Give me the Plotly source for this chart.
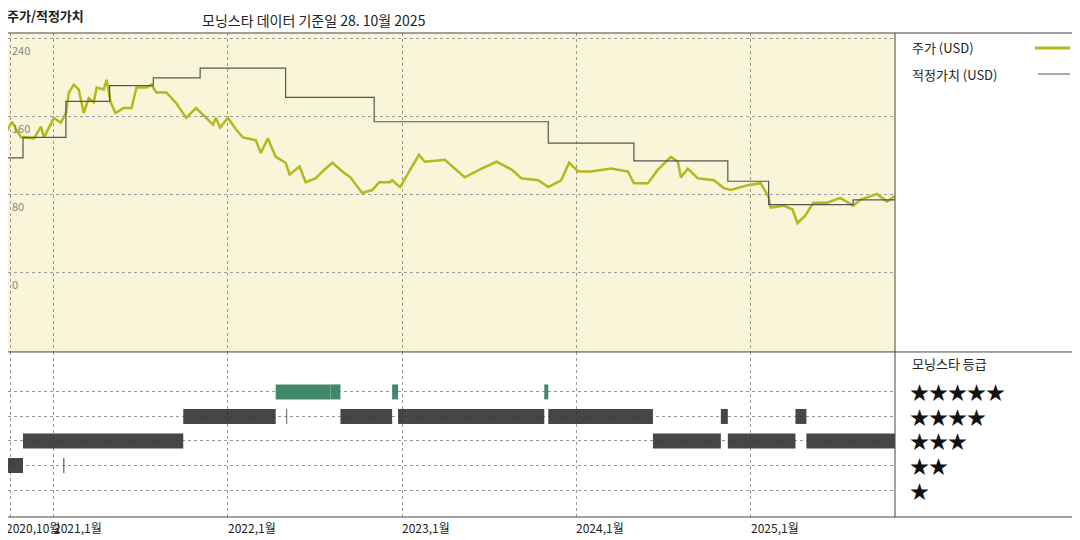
import plotly.graph_objects as go
import pandas as pd

# price (decimal year, USD)
price_t = [2020.731,2020.760,2020.811,2020.886,2020.926,2020.943,2021.000,2021.040,2021.069,2021.086,2021.114,2021.143,2021.171,2021.200,2021.229,2021.246,2021.286,2021.303,2021.326,2021.354,2021.400,2021.446,2021.474,2021.531,2021.560,2021.589,2021.646,2021.703,2021.760,2021.817,2021.857,2021.914,2021.931,2021.954,2022.000,2022.046,2022.086,2022.160,2022.189,2022.229,2022.274,2022.331,2022.354,2022.411,2022.446,2022.503,2022.554,2022.600,2022.657,2022.703,2022.771,2022.829,2022.869,2022.886,2022.931,2022.943,2022.989,2023.057,2023.097,2023.131,2023.246,2023.360,2023.457,2023.543,2023.629,2023.686,2023.783,2023.840,2023.914,2023.960,2024.011,2024.086,2024.200,2024.297,2024.331,2024.411,2024.469,2024.543,2024.583,2024.600,2024.640,2024.697,2024.789,2024.846,2024.886,2024.983,2025.057,2025.103,2025.114,2025.189,2025.240,2025.269,2025.314,2025.360,2025.440,2025.514,2025.589,2025.629,2025.726,2025.783,2025.829]
price_v = [146,155,139,138,150,139,159,154,164,185,193,188,164,179,175,190,188,198,175,164,169,169,190,190,193,185,185,174,159,169,162,152,159,149,159,147,139,136,123,138,119,113,101,109,93,97,106,113,104,98,82,85,93,93,93,95,88,109,121,114,116,98,107,114,106,97,95,88,95,113,104,104,107,104,92,92,106,119,114,98,107,97,95,87,85,90,92,78,67,69,65,51,59,72,72,77,69,75,81,73,79]

# fair value steps: start times and values
fair_t = [2020.731,2020.823,2021.069,2021.320,2021.571,2021.840,2022.331,2022.840,2023.840,2024.331,2024.869,2025.103,2025.589]
fair_v = [118,139,176,192,200,210,180,155,133,115,94,70,75]
fair_end = 2025.829

# star rating intervals
rating_start = [2020.737,2020.823,2021.054,2021.743,2022.274,2022.335,2022.589,2022.646,2022.943,2022.977,2023.023,2023.817,2023.840,2024.440,2024.829,2024.869,2025.257,2025.320]
rating_end   = [2020.823,2021.743,2021.060,2022.274,2022.589,2022.340,2022.646,2022.943,2022.977,2023.023,2023.817,2023.840,2024.440,2024.829,2024.869,2025.257,2025.320,2025.829]
rating_val   = [2,3,2,4,5,4,5,4,5,4,4,5,4,3,4,3,4,3]

tick_dates = ["2020-10-01","2021-01-01","2022-01-01","2023-01-01","2024-01-01","2025-01-01"]
tick_text = ["2020,10월","2021,1월","2022,1월","2023,1월","2024,1월","2025,1월"]
price_ticks = [0,80,160,240]

def d(y):
    y0 = int(y)
    s = pd.Timestamp(f"{y0}-01-01"); e = pd.Timestamp(f"{y0+1}-01-01")
    return s + (e - s) * (y - y0)

def px(xs):  # screen px -> paper x
    return (xs - 8) / 887
def py(ys):
    return (517 - ys) / 484

F = "Noto Sans CJK KR"
fig = go.Figure()
fig.add_trace(go.Scatter(x=[d(t) for t in price_t], y=price_v, mode="lines",
                         line=dict(color="#b5b81c", width=2.5), xaxis="x", yaxis="y"))
fx, fy = [], []
for i, (t, v) in enumerate(zip(fair_t, fair_v)):
    t2 = fair_t[i+1] if i+1 < len(fair_t) else fair_end
    fx += [d(t), d(t2)]; fy += [v, v]
fig.add_trace(go.Scatter(x=fx, y=fy, mode="lines", line=dict(color="#555555", width=1.2),
                         xaxis="x", yaxis="y"))
for col, cond in [("#333333", lambda r: r < 5), ("#2e7d5b", lambda r: r == 5)]:
    rx, ry = [], []
    for s, e, r in zip(rating_start, rating_end, rating_val):
        if cond(r):
            rx += [d(s), d(e), None]; ry += [r, r, None]
    fig.add_trace(go.Scatter(x=rx, y=ry, mode="lines", line=dict(color=col, width=15),
                             opacity=0.9, xaxis="x2", yaxis="y2"))

xr = [d(2020.737), d(fair_end)]
grid = dict(showgrid=True, gridcolor="#999", griddash="dot", gridwidth=1)
fig.update_layout(
    width=1080, height=540, margin=dict(l=0, r=193, t=25, b=31),
    paper_bgcolor="white", plot_bgcolor="rgba(0,0,0,0)", showlegend=False,
    font=dict(family=F, size=13, color="#222"),
    xaxis=dict(domain=[0, 1], range=xr, anchor="y", tickvals=tick_dates, showticklabels=False,
               zeroline=False, **grid),
    yaxis=dict(domain=[0.341, 1], range=[-81, 246], tickvals=price_ticks, showticklabels=False,
               zeroline=False, **grid),
    xaxis2=dict(domain=[0, 1], range=xr, anchor="y2", tickvals=tick_dates, showticklabels=False,
                zeroline=False, **grid),
    yaxis2=dict(domain=[0, 0.341], range=[-0.1, 6.63], tickvals=[1, 2, 3, 4, 5],
                showticklabels=False, zeroline=False, **grid),
)
L = dict(color="#444", width=1)
shapes = [
    dict(type="rect", xref="paper", yref="paper", x0=0, x1=1, y0=0.341, y1=1,
         fillcolor="#f8f5d9", line=dict(width=0), layer="below"),
    dict(type="line", xref="paper", yref="paper", x0=-0.01, x1=1.22, y0=1, y1=1, line=L),
    dict(type="line", xref="paper", yref="paper", x0=-0.01, x1=1.22, y0=0.341, y1=0.341, line=L),
    dict(type="line", xref="paper", yref="paper", x0=-0.01, x1=1.22, y0=0, y1=0, line=L),
    dict(type="line", xref="paper", yref="paper", x0=1, x1=1, y0=0, y1=1, line=L),
    dict(type="line", xref="paper", yref="paper", x0=px(1035), x1=px(1070), y0=py(48), y1=py(48),
         line=dict(color="#b5b81c", width=3)),
    dict(type="line", xref="paper", yref="paper", x0=px(1038), x1=px(1070), y0=py(74), y1=py(74),
         line=dict(color="#555", width=1)),
]
anns = [
    dict(text="<b>주가/적정가치</b>", x=px(5), y=py(16), xref="paper", yref="paper",
         xanchor="left", yanchor="middle", showarrow=False),
    dict(text="모닝스타 데이터 기준일 28. 10월 2025", x=px(200), y=py(20), xref="paper", yref="paper",
         xanchor="left", yanchor="middle", showarrow=False, font=dict(size=14)),
    dict(text="주가 (USD)", x=px(910), y=py(48), xref="paper", yref="paper", xanchor="left",
         yanchor="middle", showarrow=False),
    dict(text="적정가치 (USD)", x=px(910), y=py(74), xref="paper", yref="paper", xanchor="left",
         yanchor="middle", showarrow=False),
    dict(text="모닝스타 등급", x=px(910), y=py(363), xref="paper", yref="paper", xanchor="left",
         yanchor="middle", showarrow=False),
]
for v in price_ticks:
    anns.append(dict(text=str(v), x=0.002, y=v, xref="paper", yref="y", xanchor="left", yanchor="top",
                     yshift=-1, showarrow=False, font=dict(size=11, color="#888")))
for tdt, tt in zip(tick_dates, tick_text):
    anns.append(dict(text=tt, x=tdt, y=0, xref="x2", yref="paper", xanchor="left", yanchor="top",
                     xshift=-6 if tt.startswith("2020") else -2, yshift=0, showarrow=False,
                     font=dict(size=12, color="#222")))
for r in range(1, 6):
    anns.append(dict(text="★" * r, x=px(908), y=r, xref="paper", yref="y2", xanchor="left",
                     yanchor="middle", showarrow=False, font=dict(size=19, color="#111")))
fig.update_layout(shapes=shapes, annotations=anns)
fig.write_html("out.html")
